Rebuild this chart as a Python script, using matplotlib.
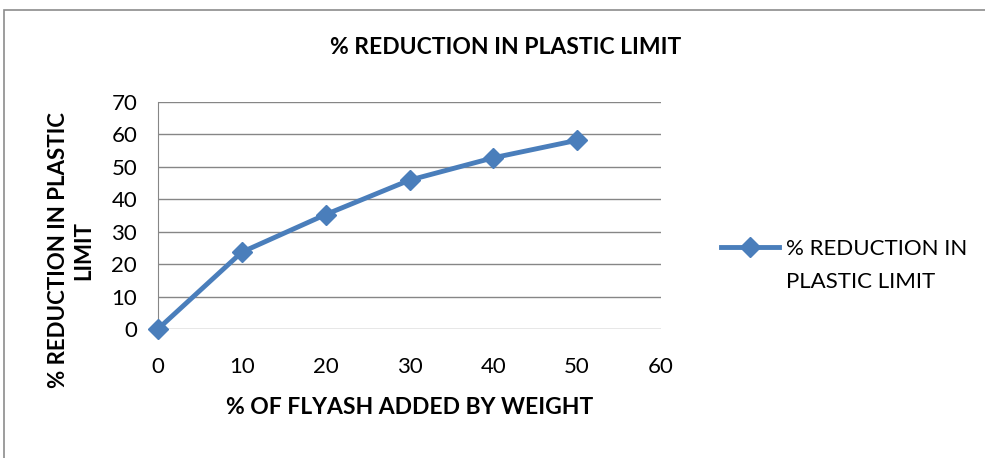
import matplotlib.pyplot as plt
from matplotlib.lines import Line2D
from matplotlib.patches import Rectangle

flyash = [0, 10, 20, 30, 40, 50]
reduction = [0, 23.7, 35.3, 45.9, 52.8, 58.2]
series_name = ["% REDUCTION IN", "PLASTIC LIMIT"]

blue = "#4A7EBB"
grid_c = "#868686"
font = ["Lato", "DejaVu Sans"]

fig = plt.figure(figsize=(9.85, 4.58), dpi=100)
W, H = 985, 458

# chart border
fig.patches.append(Rectangle((4 / W, -0.01), 1.0, 1 - 10 / H + 0.01, transform=fig.transFigure,
                             fill=False, edgecolor="#8c8c8c", linewidth=1.2))

ax = fig.add_axes([158 / W, 1 - 329 / H, (661 - 158) / W, (329 - 102) / H])
ax.plot(flyash, reduction, color=blue, linewidth=3.5, marker="D", markersize=10.5,
        markeredgecolor=blue, clip_on=False, zorder=3)

ax.set_xlim(0, 60)
ax.set_ylim(0, 70)
ax.set_xticks(range(0, 61, 10))
ax.set_yticks(range(0, 71, 10))
ax.grid(axis="y", color=grid_c, linewidth=1)
ax.set_axisbelow(True)
for s in ["top", "right", "bottom"]:
    ax.spines[s].set_visible(False)
ax.spines["left"].set_color(grid_c)
ax.tick_params(axis="y", length=0, pad=15, labelsize=16)
ax.tick_params(axis="x", length=0, pad=20, labelsize=16)
for lbl in ax.get_xticklabels() + ax.get_yticklabels():
    lbl.set_family(font)

fig.text(506 / W, 1 - 47 / H, "% REDUCTION IN PLASTIC LIMIT", ha="center", va="center",
         fontsize=16.5, fontweight="bold", family=font)
fig.text(410 / W, 1 - 408 / H, "% OF FLYASH ADDED BY WEIGHT", ha="center", va="center",
         fontsize=16.5, fontweight="bold", family=font)
fig.text(71 / W, 1 - 250 / H, "% REDUCTION IN PLASTIC\nLIMIT", ha="center", va="center",
         rotation=90, fontsize=16, fontweight="bold", family=font, linespacing=1.25)

# legend: handle sits on the first line, the name wraps onto a second line
handle = Line2D([], [], color=blue, linewidth=3.5, marker="D", markersize=10.5)
leg = fig.legend([handle], [series_name[0]], loc="center left",
                 bbox_to_anchor=(710 / W, 1 - 249 / H), frameon=False,
                 prop={"family": font, "size": 16}, handlelength=2.6,
                 handletextpad=0.3, borderpad=0)
fig.canvas.draw()
tb = leg.get_texts()[0].get_window_extent()
fig.text(tb.x0 / W, 1 - 282 / H, series_name[1], ha="left", va="center",
         fontsize=16, family=font)

fig.savefig("out.png", dpi=100)
